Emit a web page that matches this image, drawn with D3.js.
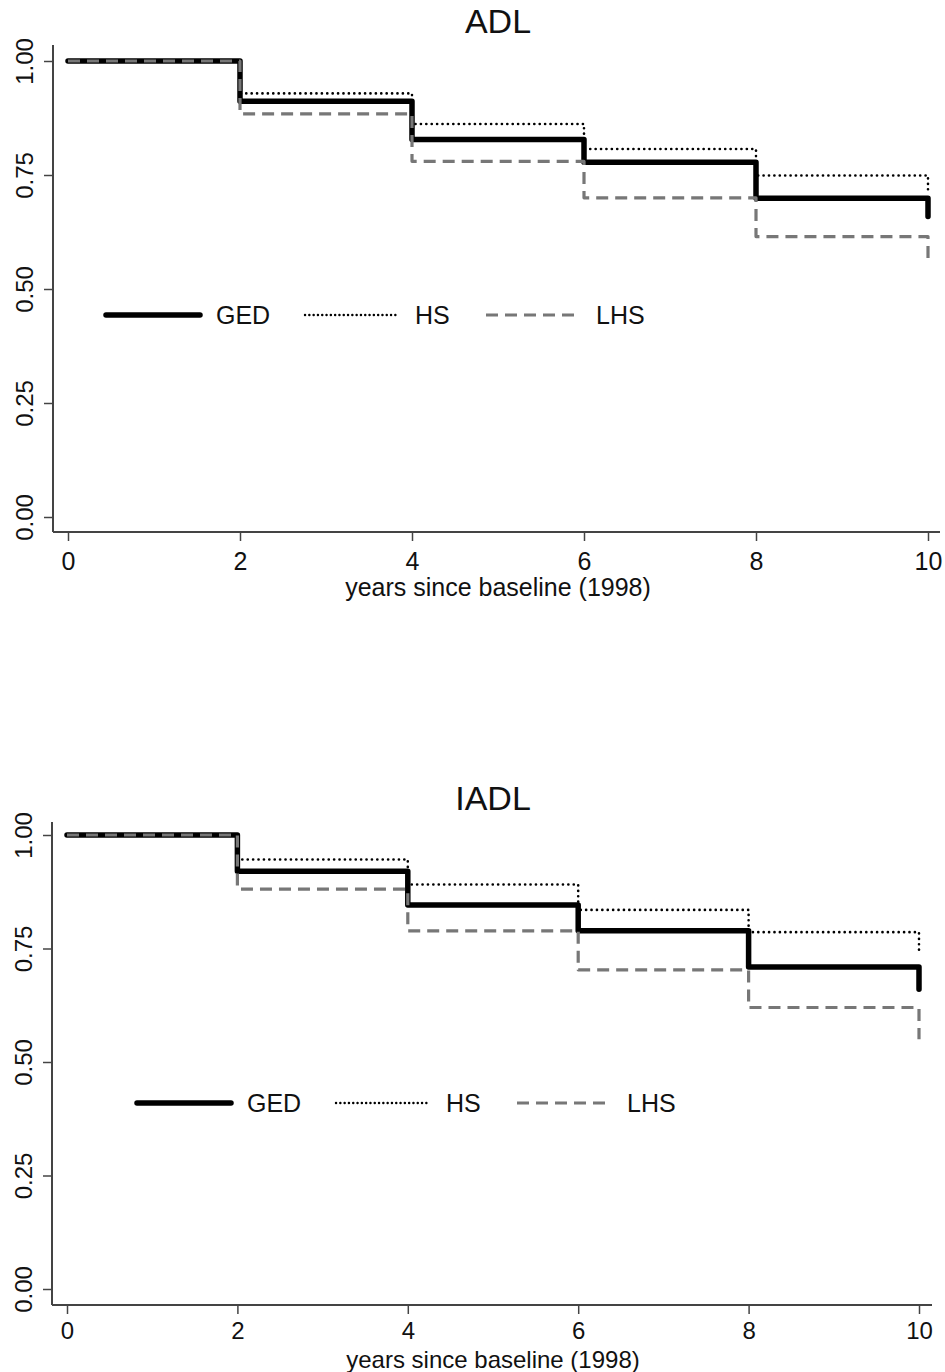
<!DOCTYPE html>
<html>
<head>
<meta charset="utf-8">
<script src="https://cdn.jsdelivr.net/npm/d3@7"></script>
<style>
  body { margin: 0; background: #fff; }
  text { font-family: "Liberation Sans", Arial, Helvetica, sans-serif; fill: #111; }
</style>
</head>
<body>
<div id="vis"></div>
<script>
// ---------- data ----------
const years = [0, 2, 4, 6, 8, 10];
const groups = ["GED", "HS", "LHS"];
const xTicks = [0, 2, 4, 6, 8, 10];
const yTicks = [0, 0.25, 0.5, 0.75, 1];

const adlGED = [1.00, 0.912, 0.828, 0.778, 0.699, 0.659];
const adlHS  = [1.00, 0.929, 0.862, 0.807, 0.749, 0.716];
const adlLHS = [1.00, 0.884, 0.780, 0.700, 0.615, 0.553];

const iadlGED = [1.00, 0.920, 0.846, 0.789, 0.709, 0.660];
const iadlHS  = [1.00, 0.946, 0.891, 0.835, 0.786, 0.739];
const iadlLHS = [1.00, 0.881, 0.789, 0.703, 0.620, 0.550];

const xLabel = "years since baseline (1998)";

// ---------- styles ----------
const styles = {
  GED: { stroke: "#000", width: 5.5, dash: null },
  HS:  { stroke: "#000", width: 2.6, dash: "0.1 5.3" },
  LHS: { stroke: "#777", width: 3.2, dash: "12 7" }
};

const W = 945, H = 1372;
const svg = d3.select("#vis").append("svg")
  .attr("width", W).attr("height", H);

function panel(opt) {
  const g = svg.append("g");
  const x = d3.scaleLinear().domain([0, 10]).range(opt.xr);
  const y = d3.scaleLinear().domain([0, 1]).range(opt.yr);

  // title
  g.append("text")
    .attr("x", (opt.xr[0] + opt.xr[1]) / 2).attr("y", opt.titleY)
    .attr("text-anchor", "middle")
    .style("font-size", "34px")
    .text(opt.title);

  // axis lines
  g.append("line")
    .attr("x1", opt.axX).attr("x2", opt.axX)
    .attr("y1", opt.axTop).attr("y2", opt.axY)
    .attr("stroke", "#444").attr("stroke-width", 2);
  g.append("line")
    .attr("x1", opt.axX).attr("x2", opt.axRight)
    .attr("y1", opt.axY).attr("y2", opt.axY)
    .attr("stroke", "#444").attr("stroke-width", 2);

  // x axis
  const xa = g.append("g")
    .attr("transform", `translate(0,${opt.axY})`)
    .call(d3.axisBottom(x).tickValues(xTicks).tickSize(9).tickPadding(opt.pad).tickFormat(d3.format("d")));
  xa.select(".domain").remove();
  xa.selectAll("line").attr("stroke", "#444").attr("stroke-width", 1.5);
  xa.selectAll("text").style("font-size", opt.tickFont + "px").attr("fill", "#111");

  // y axis
  const ya = g.append("g")
    .attr("transform", `translate(${opt.axX},0)`)
    .call(d3.axisLeft(y).tickValues(yTicks).tickSize(9).tickFormat(d3.format(".2f")));
  ya.select(".domain").remove();
  ya.selectAll("line").attr("stroke", "#444").attr("stroke-width", 1.5);
  ya.selectAll("text")
    .style("font-size", "24px")
    .attr("fill", "#111")
    .attr("text-anchor", "middle")
    .attr("x", 0).attr("dy", 0).attr("y", 0)
    .attr("transform", "translate(-29,0) rotate(-90)")
    .attr("dominant-baseline", "central");

  // x label
  g.append("text")
    .attr("x", (opt.xr[0] + opt.xr[1]) / 2).attr("y", opt.xLabelY)
    .attr("text-anchor", "middle")
    .style("font-size", opt.tickFont + "px")
    .text(xLabel);

  // curves
  const line = d3.line()
    .x(d => x(d.t)).y(d => y(d.v))
    .curve(d3.curveStepAfter);

  opt.series.forEach((vals, i) => {
    const s = styles[groups[i]];
    const pts = years.map((t, j) => ({ t: t, v: vals[j] }));
    // final drop at the last time point
    const path = line(pts.slice(0, -1).concat([{ t: 10, v: vals[vals.length - 2] }]))
      + `L${x(10)},${y(vals[vals.length - 1])}`;
    g.append("path")
      .attr("d", path)
      .attr("fill", "none")
      .attr("stroke", s.stroke)
      .attr("stroke-width", s.width)
      .attr("stroke-dasharray", s.dash)
      .attr("stroke-linecap", i === 2 ? "butt" : "round")
      .attr("stroke-linejoin", "round");
  });

  // legend
  const lg = g.append("g").attr("transform", `translate(${opt.legX},${opt.legY})`);
  const keyX = [0, 199, 380];
  groups.forEach((k, i) => {
    const s = styles[k];
    lg.append("line")
      .attr("x1", keyX[i]).attr("x2", keyX[i] + 94)
      .attr("y1", 0).attr("y2", 0)
      .attr("stroke", s.stroke)
      .attr("stroke-width", k === "GED" ? 5.5 : (k === "HS" ? 2.4 : 2.8))
      .attr("stroke-dasharray", k === "HS" ? "0.1 4.2" : (k === "LHS" ? "12 7" : null))
      .attr("stroke-linecap", k === "LHS" ? "butt" : "round");
    lg.append("text")
      .attr("x", keyX[i] + 110).attr("y", 9)
      .style("font-size", "25px")
      .text(k);
  });
}

panel({
  title: "ADL", titleY: 33,
  xr: [68, 928], yr: [517, 61],
  axX: 53, axTop: 45, axY: 532, axRight: 940,
  pad: 11, tickFont: 25,
  xLabelY: 596,
  legX: 106, legY: 315,
  series: [adlGED, adlHS, adlLHS]
});

panel({
  title: "IADL", titleY: 810,
  xr: [67, 919], yr: [1289, 835],
  axX: 52, axTop: 822, axY: 1305, axRight: 932,
  pad: 8, tickFont: 24,
  xLabelY: 1368,
  legX: 137, legY: 1103,
  series: [iadlGED, iadlHS, iadlLHS]
});
</script>
</body>
</html>
